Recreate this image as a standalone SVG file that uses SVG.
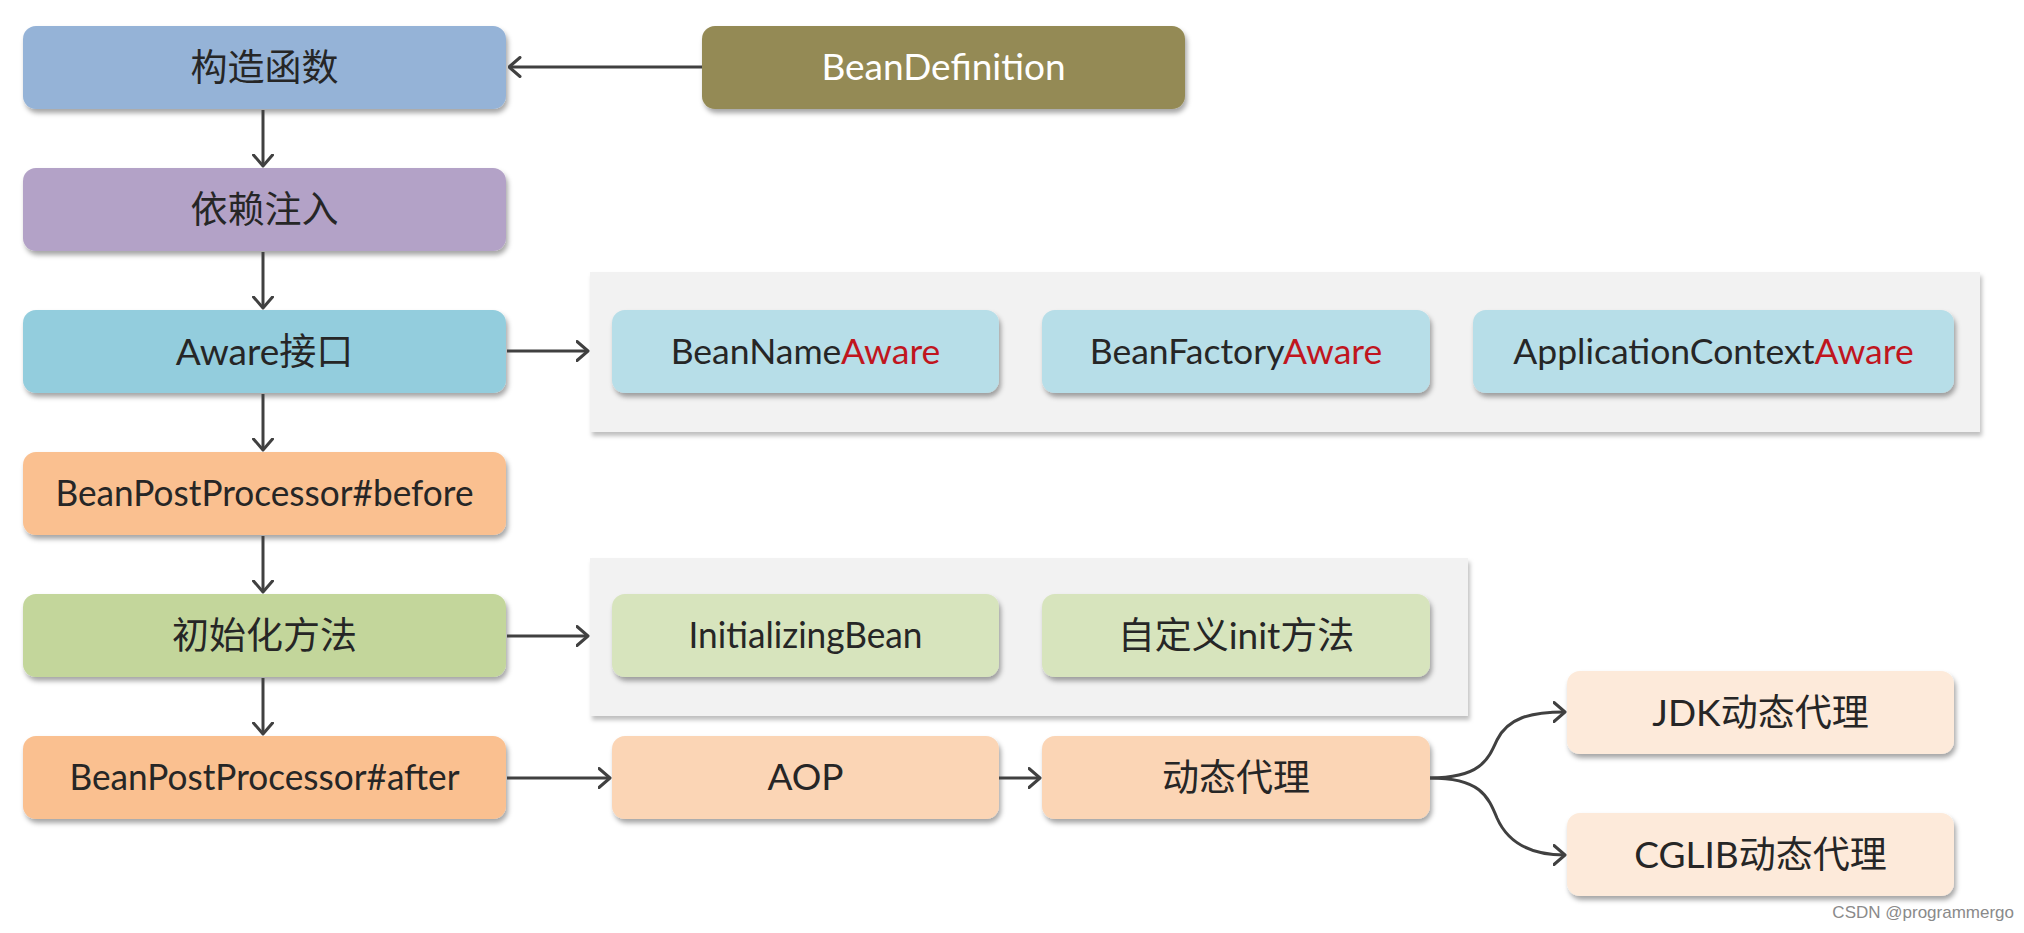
<svg xmlns="http://www.w3.org/2000/svg" width="2024" height="933" viewBox="0 0 2024 933">
<defs>
<filter id="sh" x="-5%" y="-10%" width="115%" height="140%">
<feDropShadow dx="2" dy="4" stdDeviation="2.5" flood-color="#000" flood-opacity="0.35"/>
</filter>
<filter id="psh" x="-2%" y="-5%" width="105%" height="115%">
<feDropShadow dx="2" dy="4" stdDeviation="2" flood-color="#000" flood-opacity="0.25"/>
</filter>
<marker id="arr" viewBox="0 0 14 22" refX="12.5" refY="11" markerWidth="14" markerHeight="22" markerUnits="userSpaceOnUse" orient="auto">
<path d="M1.5,1.5 L12.5,11 L1.5,20.5" fill="none" stroke="#404040" stroke-width="3" stroke-linecap="round" stroke-linejoin="round"/>
</marker>
<style>
.t{font-family:Lato,"Noto Sans CJK SC",sans-serif;font-size:37px;fill:#262626;text-anchor:middle}
.a{font-size:35.5px}
.w{fill:#ffffff}
.r{fill:#C0161E}
.box{filter:url(#sh)}
.c{fill:none;stroke:#404040;stroke-width:3}
</style>
</defs>
<rect width="2024" height="933" fill="#ffffff"/>

<g id="panel-aware"><rect x="590" y="272" width="1390" height="160" fill="#F2F2F2" filter="url(#psh)"/></g>
<g id="panel-init"><rect x="590" y="558" width="878" height="158" fill="#F2F2F2" filter="url(#psh)"/></g>

<g id="constructor"><rect class="box" x="23" y="26" width="483" height="83" rx="13" fill="#95B3D7"/><text class="t" x="264.5" y="81">构造函数</text></g>
<g id="beandefinition"><rect class="box" x="702" y="26" width="483" height="83" rx="13" fill="#948A54"/><text class="t w" x="943.5" y="80">BeanDefinition</text></g>
<g id="di"><rect class="box" x="23" y="168" width="483" height="83" rx="13" fill="#B3A2C7"/><text class="t" x="264.5" y="223">依赖注入</text></g>
<g id="aware"><rect class="box" x="23" y="310" width="483" height="83" rx="13" fill="#93CDDD"/><text class="t" x="264.5" y="365">Aware接口</text></g>
<g id="bpp-before"><rect class="box" x="23" y="452" width="483" height="83" rx="13" fill="#FAC090"/><text class="t" x="264.5" y="506" textLength="418" lengthAdjust="spacingAndGlyphs">BeanPostProcessor#before</text></g>
<g id="init"><rect class="box" x="23" y="594" width="483" height="83" rx="13" fill="#C3D69B"/><text class="t" x="264.5" y="649">初始化方法</text></g>
<g id="bpp-after"><rect class="box" x="23" y="736" width="483" height="83" rx="13" fill="#FAC090"/><text class="t" x="264.5" y="790" textLength="390" lengthAdjust="spacingAndGlyphs">BeanPostProcessor#after</text></g>

<g id="beannameaware"><rect class="box" x="612" y="310" width="387" height="83" rx="13" fill="#B7DEE8"/><text class="t a" x="805.5" y="364">BeanName<tspan class="r">Aware</tspan></text></g>
<g id="beanfactoryaware"><rect class="box" x="1042" y="310" width="388" height="83" rx="13" fill="#B7DEE8"/><text class="t a" x="1236" y="364">BeanFactory<tspan class="r">Aware</tspan></text></g>
<g id="appctxaware"><rect class="box" x="1473" y="310" width="481" height="83" rx="13" fill="#B7DEE8"/><text class="t a" x="1713.5" y="364">ApplicationContext<tspan class="r">Aware</tspan></text></g>

<g id="initializingbean"><rect class="box" x="612" y="594" width="387" height="83" rx="13" fill="#D7E4BD"/><text class="t" x="805.5" y="648" textLength="234" lengthAdjust="spacingAndGlyphs">InitializingBean</text></g>
<g id="custominit"><rect class="box" x="1042" y="594" width="388" height="83" rx="13" fill="#D7E4BD"/><text class="t" x="1236" y="649">自定义init方法</text></g>

<g id="aop"><rect class="box" x="612" y="736" width="387" height="83" rx="13" fill="#FBD5B5"/><text class="t" x="805.5" y="790">AOP</text></g>
<g id="dynproxy"><rect class="box" x="1042" y="736" width="388" height="83" rx="13" fill="#FBD5B5"/><text class="t" x="1236" y="791">动态代理</text></g>
<g id="jdk"><rect class="box" x="1567" y="671" width="387" height="83" rx="13" fill="#FDEADA"/><text class="t" x="1760.5" y="726">JDK动态代理</text></g>
<g id="cglib"><rect class="box" x="1567" y="813" width="387" height="83" rx="13" fill="#FDEADA"/><text class="t" x="1760.5" y="868">CGLIB动态代理</text></g>

<g id="connectors">
<path class="c" d="M702,67 L509,67" marker-end="url(#arr)"/>
<path class="c" d="M263,110 L263,166" marker-end="url(#arr)"/>
<path class="c" d="M263,252 L263,308" marker-end="url(#arr)"/>
<path class="c" d="M263,394 L263,450" marker-end="url(#arr)"/>
<path class="c" d="M263,536 L263,592" marker-end="url(#arr)"/>
<path class="c" d="M263,678 L263,734" marker-end="url(#arr)"/>
<path class="c" d="M507,351 L588,351" marker-end="url(#arr)"/>
<path class="c" d="M507,636 L588,636" marker-end="url(#arr)"/>
<path class="c" d="M507,778 L610,778" marker-end="url(#arr)"/>
<path class="c" d="M999,778 L1040,778" marker-end="url(#arr)"/>
<path class="c" d="M1430,778 C1480,778 1488,760 1497,740 C1508,718 1530,712 1565,712" marker-end="url(#arr)"/>
<path class="c" d="M1430,778 C1480,778 1488,796 1497,818 C1508,843 1530,855 1565,855" marker-end="url(#arr)"/>
</g>

<text x="2014" y="918" font-family="'Liberation Sans',sans-serif" font-size="17" fill="#8A8A8A" text-anchor="end">CSDN @programmergo</text>
</svg>
